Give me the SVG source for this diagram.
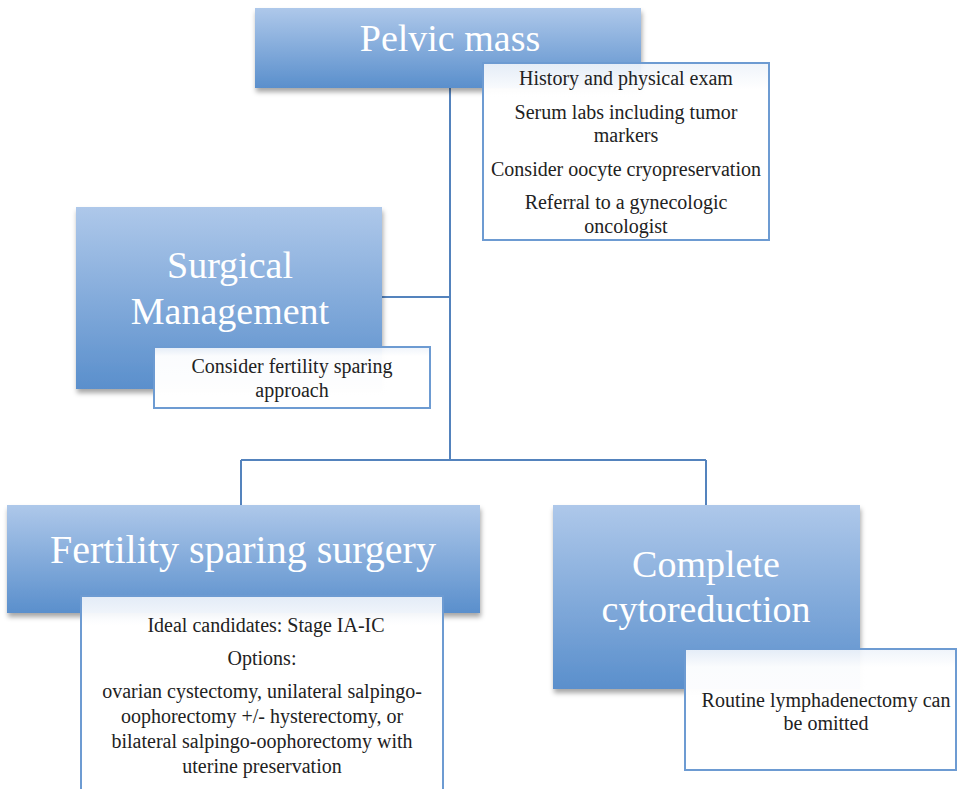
<svg xmlns="http://www.w3.org/2000/svg" width="958" height="789" viewBox="0 0 958 789">
<defs>
<linearGradient id="blue" x1="0" y1="0" x2="0" y2="1">
<stop offset="0" stop-color="#aec8ea"/>
<stop offset="1" stop-color="#5a8fcc"/>
</linearGradient>
<linearGradient id="white" x1="0" y1="0" x2="0" y2="1">
<stop offset="0" stop-color="#eef3fa" stop-opacity="0.92"/>
<stop offset="0.15" stop-color="#ffffff" stop-opacity="0.97"/>
<stop offset="1" stop-color="#ffffff"/>
</linearGradient>
<filter id="sh" x="-5%" y="-5%" width="115%" height="125%">
<feDropShadow dx="1" dy="4" stdDeviation="2.5" flood-color="#000" flood-opacity="0.35"/>
</filter>
</defs>
<style>
.main{fill:url(#blue);filter:url(#sh);}
.det{fill:url(#white);stroke:#6d9bd2;stroke-width:2;}
.conn{fill:none;stroke:#5483bd;stroke-width:2;}
.tt{font-family:"Liberation Serif","DejaVu Serif",serif;fill:#ffffff;text-anchor:middle;}
.dt{font-family:"Liberation Serif","DejaVu Serif",serif;fill:#222222;text-anchor:middle;font-size:20px;}
</style>
<rect width="958" height="789" fill="#ffffff"/>
<g id="connectors">
<path class="conn" d="M450 88 V460"/>
<path class="conn" d="M382 297 H450"/>
<path class="conn" d="M241 460 H706"/>
<path class="conn" d="M241 460 V505"/>
<path class="conn" d="M706 460 V505"/>
</g>
<g id="pelvic-mass">
<rect class="main" x="255" y="8" width="386" height="80"/>
<text class="tt" x="450" y="51" font-size="38">Pelvic mass</text>
</g>
<g id="pelvic-mass-details">
<rect class="det" x="483" y="63" width="286" height="177"/>
<text class="dt" x="626" y="85">History and physical exam</text>
<text class="dt" x="626" y="119">Serum labs including tumor</text>
<text class="dt" x="626" y="142">markers</text>
<text class="dt" x="626" y="176">Consider oocyte cryopreservation</text>
<text class="dt" x="626" y="209">Referral to a gynecologic</text>
<text class="dt" x="626" y="233">oncologist</text>
</g>
<g id="surgical-management">
<rect class="main" x="76" y="207" width="306" height="182"/>
<text class="tt" x="230" y="278" font-size="38">Surgical</text>
<text class="tt" x="230" y="324" font-size="38">Management</text>
</g>
<g id="surgical-management-details">
<rect class="det" x="154" y="347" width="276" height="61"/>
<text class="dt" x="292" y="373">Consider fertility sparing</text>
<text class="dt" x="292" y="397">approach</text>
</g>
<g id="fertility-sparing">
<rect class="main" x="7" y="505" width="473" height="108"/>
<text class="tt" x="243" y="563" font-size="40">Fertility sparing surgery</text>
</g>
<g id="fertility-sparing-details">
<rect class="det" x="81" y="596" width="362" height="200"/>
<text class="dt" x="266" y="632">Ideal candidates: Stage IA-IC</text>
<text class="dt" x="262" y="665">Options:</text>
<text class="dt" x="262" y="698">ovarian cystectomy, unilateral salpingo-</text>
<text class="dt" x="262" y="723">oophorectomy +/- hysterectomy, or</text>
<text class="dt" x="262" y="748">bilateral salpingo-oophorectomy with</text>
<text class="dt" x="262" y="773">uterine preservation</text>
</g>
<g id="complete-cytoreduction">
<rect class="main" x="553" y="505" width="307" height="184"/>
<text class="tt" x="706" y="577" font-size="38">Complete</text>
<text class="tt" x="706" y="622" font-size="38">cytoreduction</text>
</g>
<g id="complete-cytoreduction-details">
<rect class="det" x="685" y="649" width="271" height="121"/>
<text class="dt" x="826" y="707">Routine lymphadenectomy can</text>
<text class="dt" x="826" y="730">be omitted</text>
</g>
</svg>
